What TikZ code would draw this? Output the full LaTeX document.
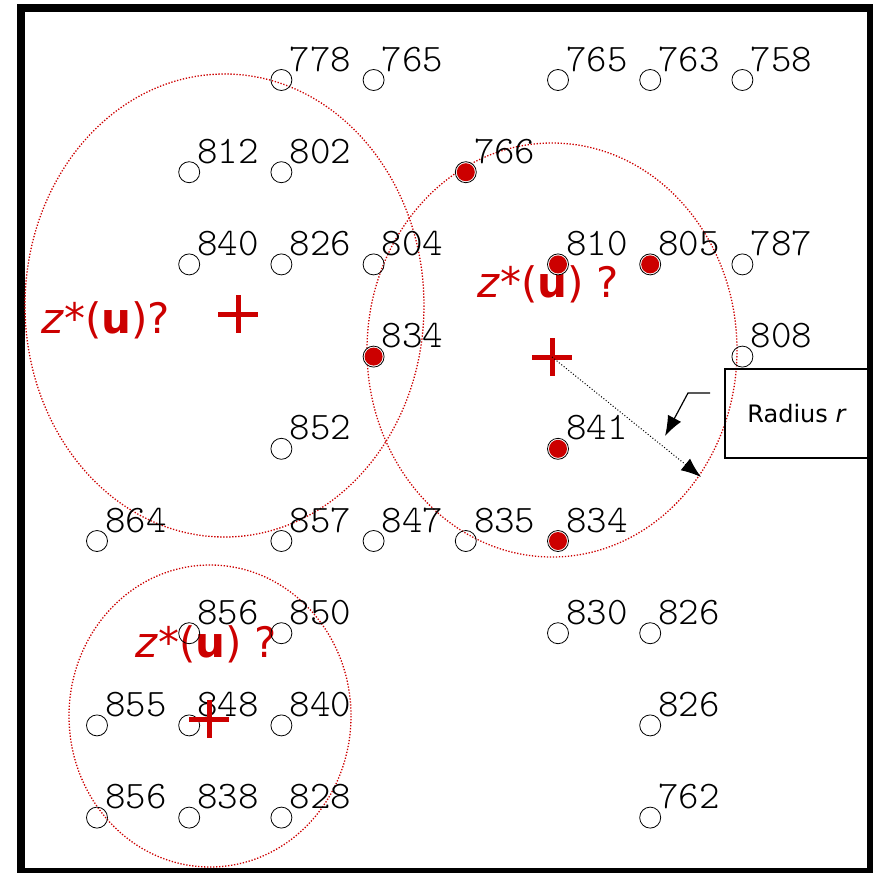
\documentclass[tikz,border=0pt]{standalone}
\usepackage{fontspec}
\newfontfamily\labelfont{DejaVu Sans}
\newfontfamily\sitefont{Latin Modern Mono Light}
\usetikzlibrary{arrows.meta, positioning}
\definecolor{markred}{RGB}{204,0,0}

\begin{document}
\begin{tikzpicture}[x=1pt, y=-1pt,
  site/.style={circle, draw, line width=0.8pt, inner sep=0pt, minimum size=21pt},
  hit/.style={site, fill=white, path picture={\fill[markred] (path picture bounding box.center) circle (9pt);}},
  value/.style={anchor=base west, inner sep=0pt, font=\fontsize{39}{39}\selectfont\sitefont},
  query/.style={anchor=base west, inner sep=0pt, text=markred, font=\fontsize{42}{42}\selectfont\labelfont},
  zone/.style={markred, line width=1.3pt, dash pattern=on 1.3pt off 1.7pt},
  centre/.style={markred, line width=5pt}]
\useasboundingbox (0,0) rectangle (873,873);
\draw[line width=6pt] (20.5,8) rectangle (870,870.5);
\draw[line width=8pt] (21,873) |- (873,8);
\draw[zone] (224.5,305.5) ellipse [x radius=199.5, y radius=231.5];
\draw[zone] (552,350) ellipse [x radius=185, y radius=207];
\draw[zone] (210,716) ellipse [x radius=141, y radius=151];
\node[query] (l1) at (41,333) {\textit{z}*(\textbf{u})?};
\node[query] (l2) at (477,297) {\textit{z}*(\textbf{u}) ?};
\node[query] (l3) at (135,657) {\textit{z}*(\textbf{u}) ?};
\foreach \k/\j/\v in {2/0/778, 3/0/765, 5/0/765, 6/0/763, 7/0/758,
    1/1/812, 2/1/802, 1/2/840, 2/2/826, 3/2/804, 7/2/787, 7/3/808,
    2/4/852, 0/5/864, 2/5/857, 3/5/847, 4/5/835, 1/6/856, 2/6/850,
    5/6/830, 6/6/826, 0/7/855, 1/7/848, 2/7/840, 6/7/826,
    0/8/856, 1/8/838, 2/8/828, 6/8/762} {
  \node[site] (s\k\j) at (97+92.2*\k, 80+92.2*\j) {};
  \node[value] at ([xshift=8pt, yshift=9pt]s\k\j.center) {\v};
}
\foreach \k/\j/\v in {4/1/766, 5/2/810, 6/2/805, 3/3/834, 5/4/841, 5/5/834} {
  \node[value] at ([xshift=8pt, yshift=9pt]97+92.2*\k, 80+92.2*\j) {\v};
  \node[hit] (s\k\j) at (97+92.2*\k, 80+92.2*\j) {};
}
\coordinate (q1) at (238,314);
\coordinate (q2) at (552,357);
\coordinate (q3) at (209,719);
\foreach \c in {q1,q2,q3}
  \draw[centre] (\c) ++(-20,0) -- ++(40,0) (\c) ++(0,-19) -- ++(0,38);
\coordinate (rim) at (701,477);
\draw[dotted, line width=1pt, -{Latex[length=20pt, width=15pt]}] (q2) -- (rim);
\node[draw, line width=1.6pt, minimum width=144pt, minimum height=89pt,
  font=\fontsize{24}{24}\selectfont\labelfont] (radius) at (797,413.5) {Radius \textit{r}};
\coordinate (tail) at (710,393);
\coordinate (tip) at (665,436);
\draw[line width=1.2pt, -{Latex[length=20pt, width=15pt]}] (tail) -- ++(-22,0) -- (tip);
\end{tikzpicture}
\end{document}
